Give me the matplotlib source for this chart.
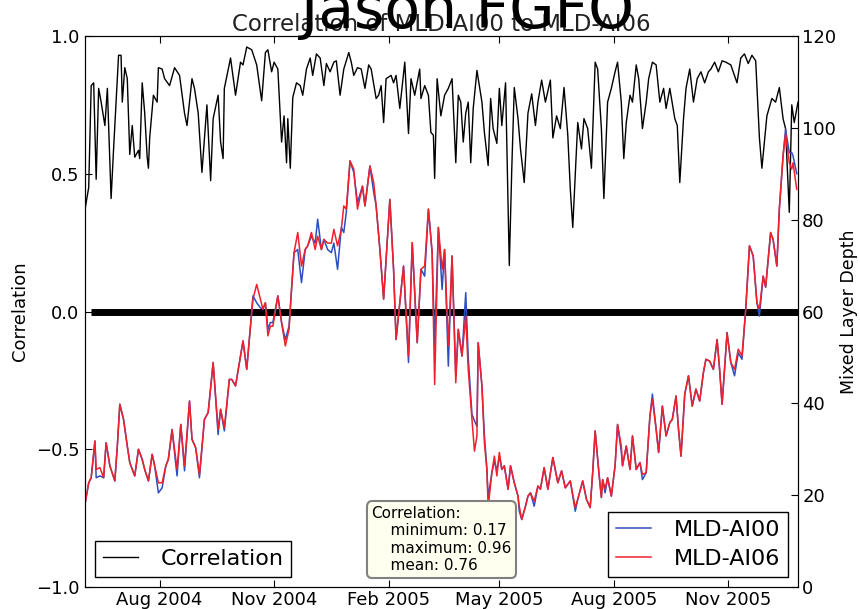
import numpy as np
import pandas as pd
import matplotlib
matplotlib.use("Agg")
import matplotlib.pyplot as plt
import matplotlib.dates as mdates
from matplotlib.offsetbox import AnchoredText

# --- data ---
start_date = pd.Timestamp("2004-06-02")
end_day = 573          # last day shown on the x axis
zero_line_days = [5, 573]

# correlation between the two MLD series (left axis)
corr_days = [0, 3, 5, 7, 9, 11, 13, 16, 18, 21, 23, 27, 29, 30, 32, 34, 36, 38, 40, 43,
             44, 46, 48, 50, 51, 52, 55, 58, 59, 62, 64, 68, 72, 76, 80, 82, 86, 88, 91, 94,
             98, 101, 103, 107, 109, 111, 112, 117, 121, 125, 127, 130, 134, 138, 142,
             145, 147, 150, 152, 155, 158, 160, 162, 163, 165, 167, 170, 173, 175, 178, 181,
             183, 186, 189, 192, 194, 197, 200, 202, 205, 208, 212, 214, 216, 219, 222, 225,
             228, 230, 234, 236, 238, 240, 242, 246, 248, 250, 253, 257, 260, 262, 265, 269,
             270, 273, 276, 278, 280, 281, 283, 286, 288,
             289, 292, 295, 298, 300, 302, 304, 306, 308, 310, 312, 315, 319, 321, 324, 326,
             328, 331, 333, 335, 338, 341, 343, 345, 348, 350, 353, 356, 359, 362, 364, 367,
             370, 374, 376, 379, 382, 385, 388, 390, 392, 394, 396, 399, 401, 404, 407, 410,
             412, 415, 417, 420, 423, 426, 428, 431, 433,
             435, 438, 440, 443, 445, 448, 451, 453, 456, 459, 462, 465, 467, 470, 474, 476,
             478, 481, 483, 486, 489, 492, 495, 498, 501, 503, 506, 509, 512, 515, 519, 524,
             527, 530, 533, 536, 539, 542, 544, 548, 552, 555, 558, 561, 563, 566, 568, 570, 573]
corr_vals = [0.37, 0.45, 0.82, 0.83, 0.48, 0.81, 0.76, 0.675, 0.81, 0.41, 0.59, 0.93, 0.93,
             0.76, 0.885, 0.845, 0.57, 0.675, 0.56, 0.585, 0.555, 0.83, 0.72, 0.56, 0.52,
             0.63, 0.785, 0.76, 0.885, 0.88, 0.845, 0.82, 0.885, 0.857, 0.72, 0.675, 0.845,
             0.81, 0.72, 0.505, 0.75, 0.475, 0.70, 0.785, 0.615, 0.555, 0.81, 0.92, 0.785,
             0.905, 0.895, 0.96, 0.95, 0.895, 0.765,
             0.94, 0.95, 0.87, 0.905, 0.88, 0.615, 0.71, 0.54, 0.70, 0.52, 0.777, 0.83, 0.82,
             0.785, 0.88, 0.92, 0.857, 0.935, 0.92, 0.82, 0.90, 0.87, 0.905, 0.91, 0.785,
             0.88, 0.94, 0.905, 0.857, 0.885, 0.88, 0.81, 0.895, 0.88, 0.773, 0.785, 0.82,
             0.686, 0.845, 0.857, 0.83, 0.857, 0.737, 0.905, 0.646, 0.845, 0.785, 0.88,
             0.773, 0.82, 0.785, 0.65, 0.64, 0.483, 0.845, 0.71, 0.76,
             0.785, 0.81, 0.845, 0.54, 0.785, 0.76, 0.615, 0.72, 0.76, 0.54, 0.737, 0.875,
             0.76, 0.65, 0.53, 0.773, 0.664, 0.61, 0.81, 0.675, 0.83, 0.167, 0.52, 0.813,
             0.70, 0.59, 0.468, 0.72, 0.79, 0.675, 0.76, 0.84, 0.76, 0.84, 0.63, 0.71, 0.664,
             0.813, 0.64, 0.446, 0.305, 0.494, 0.686, 0.59, 0.70, 0.664, 0.52, 0.905, 0.88,
             0.664, 0.41, 0.76, 0.81, 0.87, 0.905, 0.76, 0.555,
             0.686, 0.785, 0.76, 0.895, 0.845, 0.664, 0.76, 0.845, 0.905, 0.895, 0.76, 0.81,
             0.737, 0.81, 0.70, 0.675, 0.468, 0.70, 0.81, 0.88, 0.76, 0.845, 0.87, 0.83,
             0.87, 0.88, 0.905, 0.87, 0.91, 0.905, 0.895, 0.83, 0.92, 0.935, 0.90, 0.93,
             0.91, 0.63, 0.52, 0.71, 0.773, 0.76, 0.813, 0.70, 0.664, 0.36, 0.75, 0.686, 0.76]

# mixed layer depth of both runs (right axis)
mld_days = [0, 3, 5, 8, 9, 12, 15, 17, 20, 24, 26, 28, 31, 34, 36, 40, 43, 46, 48, 51,
            54, 56, 59, 62, 65, 67, 70, 74, 77, 80, 84, 86, 89, 92, 96, 99, 103, 107, 109,
            112, 116, 118, 121, 125, 127, 130, 133, 135, 138, 141, 143,
            145, 147, 149, 151, 155, 158, 161, 164, 166, 168, 171, 174, 177, 179, 182, 185,
            187, 190, 192, 195, 198, 200, 203, 206, 208, 210, 213, 216, 219, 223, 225, 229,
            232, 234, 237, 240, 245, 248, 250, 253, 256, 260, 263, 267, 270, 273, 276, 279,
            281, 284, 287,
            289, 292, 295, 298, 300, 303, 306, 308, 311, 313, 315, 316, 319, 321, 323, 324,
            327, 329, 331, 333, 335, 337, 340, 342, 345, 348, 349, 351, 354, 356, 358, 361,
            364, 366, 369, 372, 376, 380, 383, 386, 390, 394, 396, 400, 403, 406, 408, 410,
            413, 415, 416, 418, 420, 423, 426, 428, 431, 432,
            435, 438, 440, 443, 446, 448, 451, 454, 456, 459, 461, 464, 467, 470, 472, 475,
            477, 479, 482, 485, 488, 491, 494, 497, 499, 502, 505, 508, 510, 512, 516, 519,
            522, 525, 528, 531, 534, 537, 540, 542, 545, 547, 551, 553, 556, 558, 561, 563,
            566, 568, 569, 572]
mld_ai00 = [18.0, 22.7, 23.8, 31.8, 23.8, 24.2, 23.8, 31.4, 26.4, 23.1, 30.7, 39.8, 36.5,
            30.7, 27.1, 24.2, 30.0, 27.8, 25.6, 23.1, 28.9, 26.4, 20.5, 21.6, 26.4, 27.8,
            34.3, 24.2, 35.4, 25.3, 40.5, 32.2, 30.3, 23.8, 36.5, 38.0, 48.9, 33.2, 38.7,
            34.0, 45.2, 45.2, 43.8, 50.3, 53.6, 47.4, 56.8, 63.4, 61.9, 60.8, 60.5,
            61.9, 56.1, 57.6, 57.6, 63.4, 57.6, 53.9, 56.8, 64.8, 72.8, 73.5, 66.3, 73.5,
            74.3, 76.4, 74.9, 80.1, 73.5, 75.7, 73.5, 72.8, 74.9, 69.2, 78.3, 77.2, 81.6,
            92.8, 90.3, 83.7, 87.3, 83.0, 91.7, 86.0, 83.0, 73.5, 62.7, 84.4, 69.2, 53.9,
            61.9, 69.9, 48.9, 75.0, 53.2, 69.2, 67.7, 82.3, 72.8, 52.5, 78.3, 64.8,
            73.5, 48.1, 72.1, 46.0, 56.1, 50.3, 64.1, 50.0, 37.6, 36.2, 35.0, 53.2, 43.8,
            33.0, 25.6, 19.5, 24.9, 27.5, 25.3, 28.5, 25.6, 26.4, 21.3, 26.4, 22.7, 19.8,
            16.5, 14.7, 17.6, 19.8, 20.5, 17.6, 22.0, 21.3, 26.0, 21.3, 28.2, 22.7, 25.3,
            21.6, 23.1, 16.5, 19.1, 23.1, 19.1, 17.3, 24.9, 34.0, 24.9, 19.5, 23.4, 20.5,
            23.8, 19.8, 26.4, 35.4, 29.5, 26.4,
            30.7, 25.6, 32.9, 25.6, 27.1, 23.4, 24.9, 37.2, 42.0, 34.3, 29.3, 39.4, 32.9,
            35.8, 36.5, 41.6, 34.3, 28.5, 42.0, 46.0, 39.4, 43.1, 40.5, 46.7, 49.6, 49.2,
            47.4, 53.9, 47.4, 39.8, 55.4, 48.9, 46.0, 51.0, 49.6, 60.5, 74.3, 72.1, 61.9,
            59.0, 67.7, 65.3, 77.2, 75.7, 69.9, 82.3, 93.9, 99.7, 94.6, 94.6, 93.9, 90.0]
mld_ai06 = [18.0, 22.7, 23.8, 31.8, 25.6, 26.0, 23.8, 31.4, 26.4, 23.1, 30.7, 39.8, 36.5,
            30.7, 27.1, 24.2, 30.0, 27.8, 25.6, 23.1, 28.9, 26.4, 22.7, 22.7, 26.4, 27.8,
            34.3, 25.6, 35.4, 26.4, 40.5, 32.2, 30.3, 24.5, 36.5, 38.0, 48.9, 34.3, 38.7,
            34.7, 45.2, 45.2, 43.8, 50.3, 53.6, 47.4, 56.8, 62.7, 65.9, 62.7, 60.5,
            61.9, 54.7, 56.8, 56.8, 63.4, 57.6, 52.5, 56.1, 64.8, 72.8, 77.2, 69.9, 73.5,
            74.3, 77.2, 73.5, 76.4, 73.5, 75.7, 74.9, 74.9, 77.9, 74.3, 77.9, 83.0, 82.3,
            92.8, 91.0, 82.3, 87.3, 83.0, 91.7, 88.1, 83.0, 73.5, 62.7, 84.4, 69.2, 53.9,
            61.9, 69.9, 50.3, 75.0, 53.2, 69.2, 69.9, 82.3, 72.8, 44.1, 78.3, 69.2,
            73.5, 52.6, 72.1, 44.5, 56.1, 50.3, 59.0, 47.4, 36.5, 29.6, 32.9, 53.2, 43.8,
            31.4, 25.6, 17.3, 24.9, 28.5, 24.2, 29.3, 25.6, 26.4, 21.3, 26.4, 22.7, 19.8,
            17.6, 14.7, 17.6, 19.8, 20.5, 18.7, 22.0, 21.3, 26.0, 21.3, 28.2, 22.7, 25.3,
            21.6, 23.1, 17.3, 19.1, 23.1, 19.1, 17.3, 24.9, 34.0, 24.9, 19.5, 23.4, 21.3,
            23.8, 19.8, 26.4, 35.4, 30.7, 26.4,
            30.7, 25.6, 32.9, 25.6, 27.1, 24.5, 24.9, 37.2, 40.9, 34.3, 29.3, 39.4, 32.9,
            35.8, 36.5, 41.6, 34.3, 28.5, 42.0, 46.0, 39.4, 43.1, 40.5, 46.7, 49.6, 49.2,
            47.4, 53.9, 47.4, 39.8, 55.4, 48.9, 47.4, 51.8, 50.3, 60.5, 74.3, 72.1, 61.9,
            60.5, 67.7, 65.3, 77.2, 75.7, 69.9, 82.3, 93.9, 98.6, 92.4, 91.0, 92.4, 86.6]

corr_stats = {"minimum": 0.17, "maximum": 0.96, "mean": 0.76}


def to_dates(days):
    return start_date + pd.to_timedelta(np.asarray(days), unit="D")


# --- figure ---
fig = plt.figure(figsize=(8.6, 6.09), dpi=100)
ax1 = fig.add_axes([0.0988, 0.0361, 0.8291, 0.9048])
ax2 = ax1.twinx()

ax1.plot(to_dates(corr_days), corr_vals, color="k", lw=1.0, label="Correlation")
ax1.plot(to_dates(zero_line_days), [0, 0], color="k", lw=5, solid_capstyle="butt")

ax2.plot(to_dates(mld_days), mld_ai00, color="#2c4fc0", lw=1.1, label="MLD-AI00")
ax2.plot(to_dates(mld_days), mld_ai06, color="#f0202c", lw=1.1, label="MLD-AI06")

ax1.set_xlim(to_dates([0])[0], to_dates([end_day])[0])
ax1.set_ylim(-1, 1)
ax2.set_ylim(0, 120)
ax1.set_yticks([-1.0, -0.5, 0.0, 0.5, 1.0])

ax1.xaxis.set_major_locator(mdates.MonthLocator(bymonth=[2, 5, 8, 11]))
ax1.xaxis.set_major_formatter(mdates.DateFormatter("%b %Y"))

ax1.tick_params(axis="both", direction="in", length=5, labelsize=13, pad=4)
ax1.tick_params(axis="x", top=True, pad=3)
ax2.tick_params(axis="y", direction="in", length=5, labelsize=13, pad=3)

ax1.set_ylabel("Correlation", fontsize=13, labelpad=5)
ax2.set_ylabel("Mixed Layer Depth", fontsize=12.5, labelpad=3)
ax1.set_title("Correlation of MLD-AI00 to MLD-AI06", fontsize=16.5, pad=2.5,
              color="#222222")

leg_style = dict(fontsize=16, fancybox=False, edgecolor="k", framealpha=1,
                 borderpad=0.35, handlelength=1.6, handletextpad=1.0,
                 borderaxespad=0.45, labelspacing=0.43)
leg1 = ax1.legend(loc="lower left", **leg_style)
leg2 = ax2.legend(loc="lower right", **leg_style)
for leg in (leg1, leg2):
    leg.get_frame().set_linewidth(1.0)

# stats box
stats_text = "Correlation:\n    minimum: %.2f\n    maximum: %.2f\n    mean: %.2f" % (
    corr_stats["minimum"], corr_stats["maximum"], corr_stats["mean"])
at = AnchoredText(stats_text, loc="lower center", prop=dict(size=11),
                  frameon=True, pad=0.3, borderpad=0.6)
at.patch.set_boxstyle("round,pad=0,rounding_size=0.35")
at.patch.set_facecolor("#fffff0")
at.patch.set_edgecolor("#808080")
at.patch.set_linewidth(1.5)
ax2.add_artist(at)

# big heading, mostly cut off at the top
fig.text(0.544, 1 - 28 / 609, "Jason FGFO", fontsize=42, ha="center", va="baseline")

fig.savefig("out.png", dpi=100)
